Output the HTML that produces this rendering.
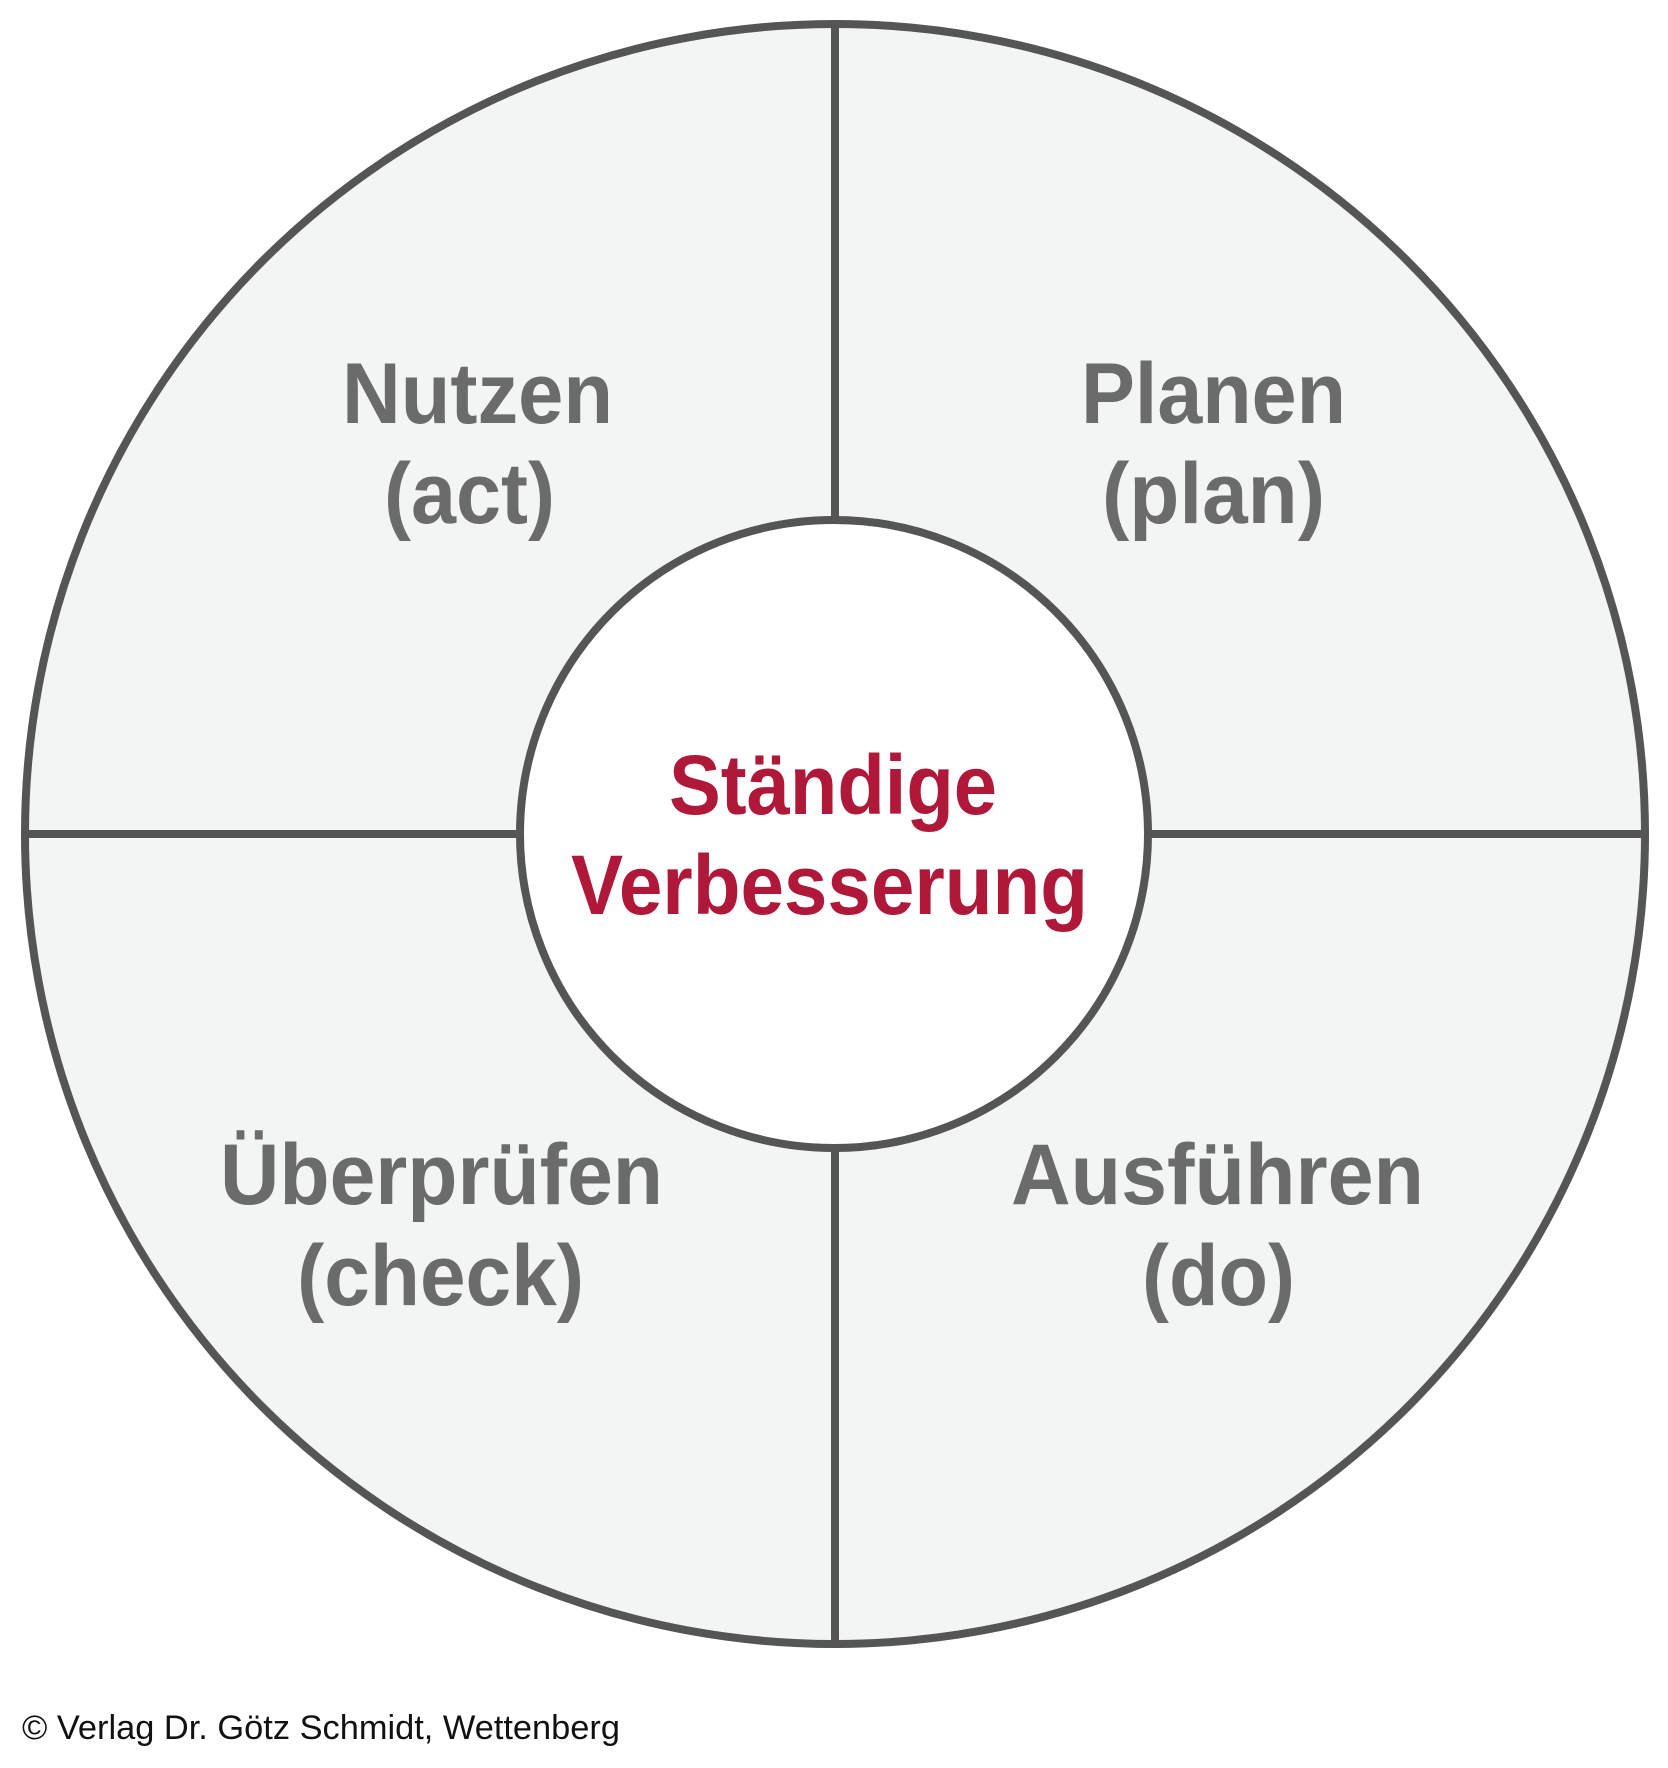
<!DOCTYPE html>
<html><head><meta charset="utf-8"><style>
html,body{margin:0;padding:0;background:#fff;}
svg{display:block;}
</style></head><body>
<svg width="1668" height="1768" viewBox="0 0 1668 1768" xmlns="http://www.w3.org/2000/svg">
<circle cx="835" cy="834" r="810" fill="#f3f5f4" stroke="#555555" stroke-width="8"/>
<line x1="835" y1="24" x2="835" y2="1644" stroke="#555555" stroke-width="8"/>
<line x1="25" y1="834" x2="1645" y2="834" stroke="#555555" stroke-width="8"/>
<circle cx="834" cy="834" r="314" fill="#ffffff" stroke="#555555" stroke-width="8"/>
<g font-family="'Liberation Sans', Arial, sans-serif" font-weight="bold" font-size="86" fill="#6b6b6b">
<text x="342" y="423" textLength="271" lengthAdjust="spacingAndGlyphs">Nutzen</text>
<text x="384" y="523" textLength="171" lengthAdjust="spacingAndGlyphs">(act)</text>
<text x="1081" y="423" textLength="265" lengthAdjust="spacingAndGlyphs">Planen</text>
<text x="1102" y="523" textLength="223" lengthAdjust="spacingAndGlyphs">(plan)</text>
<text x="220" y="1204" textLength="443" lengthAdjust="spacingAndGlyphs">Überprüfen</text>
<text x="297" y="1305" textLength="287" lengthAdjust="spacingAndGlyphs">(check)</text>
<text x="1011" y="1204" textLength="413" lengthAdjust="spacingAndGlyphs">Ausführen</text>
<text x="1142" y="1305" textLength="153" lengthAdjust="spacingAndGlyphs">(do)</text>
</g>
<g font-family="'Liberation Sans', Arial, sans-serif" font-weight="bold" font-size="84" fill="#b0183a">
<text x="669" y="814" textLength="328" lengthAdjust="spacingAndGlyphs">Ständige</text>
<text x="571" y="914" textLength="517" lengthAdjust="spacingAndGlyphs">Verbesserung</text>
</g>
<text x="22" y="1739" font-family="'Liberation Sans', Arial, sans-serif" font-size="34" fill="#111" textLength="598" lengthAdjust="spacingAndGlyphs">© Verlag Dr. Götz Schmidt, Wettenberg</text>
</svg>
</body></html>
